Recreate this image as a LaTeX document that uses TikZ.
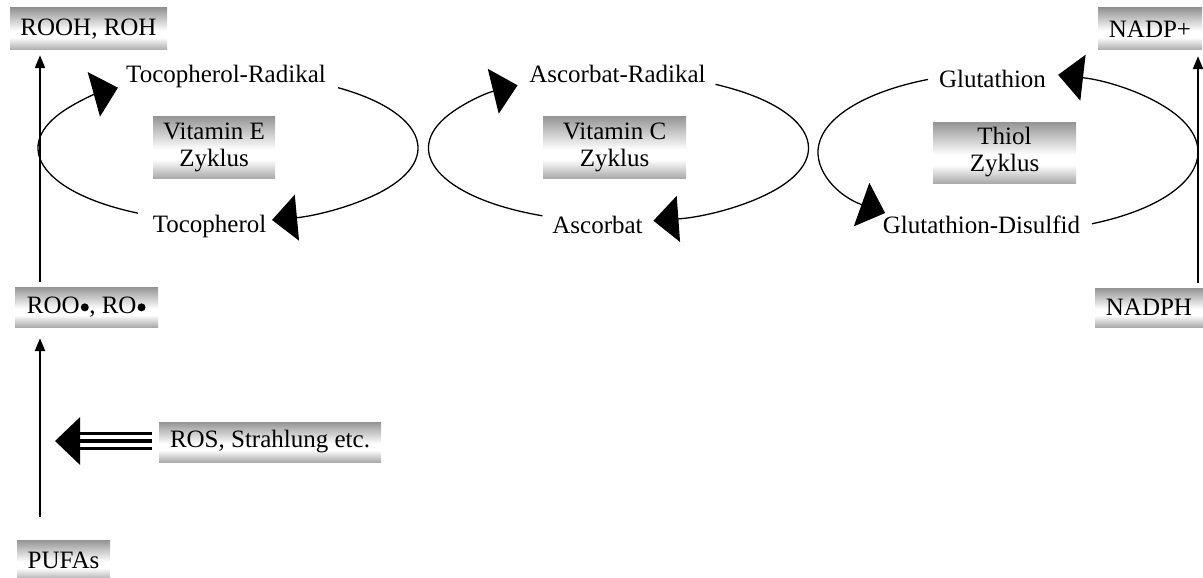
\documentclass[tikz,border=0pt]{standalone}
\usepackage{fontspec}
\setmainfont{Liberation Serif}
\usetikzlibrary{arrows.meta,calc}
% metallic grey-white-grey fill for the labelled boxes (visible range 25bp..75bp, bottom to top)
\pgfdeclareverticalshading{metal}{100bp}{color(0bp)=(black!33); color(25bp)=(black!33); color(40bp)=(white); color(48bp)=(white); color(75bp)=(black!42); color(100bp)=(black!42)}
% radical dot, centred a little above the baseline
\newcommand{\raddot}{\kern1pt\tikz[baseline={(0pt,-6pt)}, x=1pt, y=1pt]\fill (0pt,0pt) circle[radius=4pt];\kern0.5pt}
\begin{document}
\begin{tikzpicture}[x=1pt,y=-1pt,
  every node/.style={font=\fontsize{25}{27}\selectfont, inner sep=0pt},
  chem/.style={rectangle, shading=metal, align=center},
  lbl/.style={anchor=base},
  cyc/.style={line width=1.3pt, -{Triangle[width=46pt,length=25pt]}},
  up/.style={line width=2.3pt, -{Triangle[width=10pt,length=13pt]}},
  tri/.style={line width=3.6pt}]
\useasboundingbox (0,0) rectangle (1203,578);

% substance boxes
\node[chem, minimum width=157pt, minimum height=42pt] (rooh)  at (88.5,29)    {ROOH, ROH};
\node[chem, minimum width=104pt, minimum height=42pt] (nadpp) at (1150,29)    {NADP+};
\node[chem, minimum width=122pt, minimum height=62pt] (vitE)  at (214,147)    {Vitamin E\\Zyklus};
\node[chem, minimum width=143pt, minimum height=62pt] (vitC)  at (614.5,147)  {Vitamin C\\Zyklus};
\node[chem, minimum width=143pt, minimum height=61pt] (thiol) at (1004.5,152.5) {Thiol\\Zyklus};
\node[chem, minimum width=143pt, minimum height=40pt] (roo)   at (86.5,307)   {ROO\raddot, RO\raddot};
\node[chem, minimum width=108pt, minimum height=39pt] (nadph) at (1149,307.5)  {NADPH};
\node[chem, minimum width=222pt, minimum height=40pt] (ros)   at (270,442)    {ROS, Strahlung etc.};
\node[chem, minimum width=93pt,  minimum height=40pt] (pufa)  at (63.5,560)   {PUFAs};

% cycle members
\node[lbl] (tocR) at (226,83)    {Tocopherol-Radikal};
\node[lbl] (toc)  at (209.5,232) {Tocopherol};
\node[lbl] (ascR) at (617.5,83)  {Ascorbat-Radikal};
\node[lbl] (asc)  at (597.5,233) {Ascorbat};
\node[lbl] (glu)  at (992.5,88)  {Glutathion};
\node[lbl] (gluD) at (981.5,233) {Glutathion-Disulfid};

% centres of the three redox cycles
\coordinate (cE) at (228,148);
\coordinate (cC) at (618.5,148);
\coordinate (cT) at (1008,152);

% Vitamin E cycle
\draw[cyc] ($(cE)+(118.3:190 and 74)$) arc[start angle=118.3, end angle=234.6, x radius=190, y radius=74];
\draw[cyc] ($(cE)+(-54.6:190 and 74)$) arc[start angle=-54.6, end angle=76.6, x radius=190, y radius=74];
% Vitamin C cycle
\draw[cyc] ($(cC)+(113.6:190 and 74)$) arc[start angle=113.6, end angle=237.9, x radius=190, y radius=74];
\draw[cyc] ($(cC)+(-59.3:190 and 74)$) arc[start angle=-59.3, end angle=79.4, x radius=190, y radius=74];
% Thiol cycle
\draw[cyc] ($(cT)+(245.1:190 and 80)$) arc[start angle=245.1, end angle=130.3, x radius=190, y radius=80];
\draw[cyc] ($(cT)+(63.8:190 and 80)$) arc[start angle=63.8, end angle=-74.7, x radius=190, y radius=80];

% vertical reaction arrows
\coordinate (xl) at (40,0);
\coordinate (xr) at (1198,0);
\draw[up] ($(roo.north -| xl)+(0,-5)$)   -- ($(rooh.south -| xl)+(0,5)$);
\draw[up] ($(pufa.north -| xl)+(0,-23)$) -- ($(roo.south -| xl)+(0,11)$);
\draw[up] ($(nadph.north -| xr)+(0,-5)$) -- ($(nadpp.south -| xr)+(0,6)$);

% triple-shafted attack arrow
\coordinate (hit) at (55,441);
\draw[tri, -{Triangle[width=47pt,length=25pt]}] ($(ros.west)+(-7,-1)$) -- (hit);
\draw[tri] ($(ros.west)+(-7,-8.5)$) -- ($(hit)+(24,-7.5)$);
\draw[tri] ($(ros.west)+(-7,6.5)$)  -- ($(hit)+(24,7.5)$);
\end{tikzpicture}
\end{document}
